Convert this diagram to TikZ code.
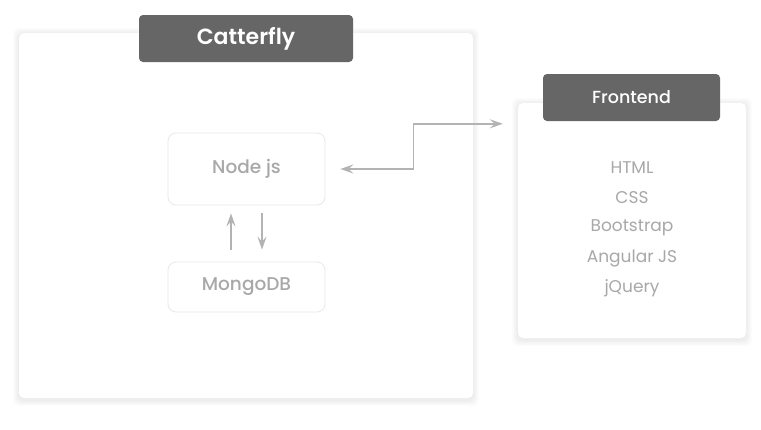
\documentclass[tikz,border=0pt]{standalone}
\usepackage{fontspec}
\setmainfont{Poppins}
\newfontfamily\semifont{Poppins}[UprightFont=* SemiBold]
\newfontfamily\medfont{Poppins}[UprightFont=* Medium]
\usepackage{tikz}
\usetikzlibrary{positioning,arrows.meta,backgrounds}
\definecolor{headgray}{HTML}{666666}
\definecolor{textgray}{HTML}{A8A8A8}
\definecolor{linegray}{HTML}{B3B3B3}
\definecolor{boxline}{HTML}{E8E8E8}

\begin{document}
\begin{tikzpicture}[x=1pt,y=-1pt,node distance=30pt,on grid,
    panel/.style={fill=white,rounded corners=5pt,inner sep=0pt},
    header/.style={fill=headgray,rounded corners=4pt,inner sep=0pt,
        minimum height=47pt,text=white},
    techbox/.style={draw=boxline,line width=0.8pt,rounded corners=8pt,
        inner sep=0pt,minimum width=157pt,text=textgray,
        font=\medfont\fontsize{18.5}{22}\selectfont},
    item/.style={text=textgray,font=\fontsize{17}{20}\selectfont},
    conn/.style={draw=linegray,line width=1.8pt,-{Stealth[length=13pt,width=9pt,inset=5pt]}},
    biconn/.style={draw=linegray,line width=1.8pt,
        {Stealth[length=13pt,width=9pt,inset=5pt]}-{Stealth[length=13pt,width=9pt,inset=5pt]}}]
    \useasboundingbox (0,0) rectangle (761,429);

    % panels
    \node[panel,minimum width=454pt,minimum height=365pt] (cat) at (246,215.5) {};
    \node[panel,minimum width=228pt,minimum height=235pt] (front) at (632,220.5) {};
    \begin{scope}[on background layer]
        \fill[white] (0,0) rectangle (761,429);
        \foreach \p in {cat,front}
            \foreach \s in {1,...,6}
                \fill[black,opacity=.01,rounded corners=7pt]
                    ([shift={(-\s pt,\s pt-1pt)}]\p.north west) rectangle
                    ([shift={(\s pt,-\s pt-2pt)}]\p.south east);
    \end{scope}

    \node[header,minimum width=214pt,font=\semifont\fontsize{22}{26}\selectfont]
        (cathead) at (246,38.5) {Catterfly};
    \node[header,minimum width=177pt,font=\medfont\fontsize{17.5}{21}\selectfont]
        (fronthead) at (631.5,97.5) {Frontend};

    % backend
    \node[techbox,minimum height=72pt] (nodejs) at (246.5,169) {Node js};
    \node[techbox,minimum height=50pt] (mongo) at (246.5,287) {MongoDB};

    % frontend list
    \node[item] (html) at (632,168) {HTML};
    \node[item] (css) [below=of html] {CSS};
    \node[item] (boot) [below=of css] {Bootstrap};
    \node[item] (angular) [below=of boot] {Angular JS};
    \node[item] (jquery) [below=of angular] {jQuery};

    % connectors
    \draw[conn] ([xshift=-15.5pt,yshift=12pt]mongo.north) -- ([xshift=-15.5pt,yshift=-8pt]nodejs.south);
    \draw[conn] ([xshift=15.5pt,yshift=-8pt]nodejs.south) -- ([xshift=15.5pt,yshift=12pt]mongo.north);
    \draw[biconn] ([xshift=15pt]nodejs.east) -- ++(73,0)
        |- ([xshift=-15pt,yshift=-21pt]front.north west);
\end{tikzpicture}
\end{document}
